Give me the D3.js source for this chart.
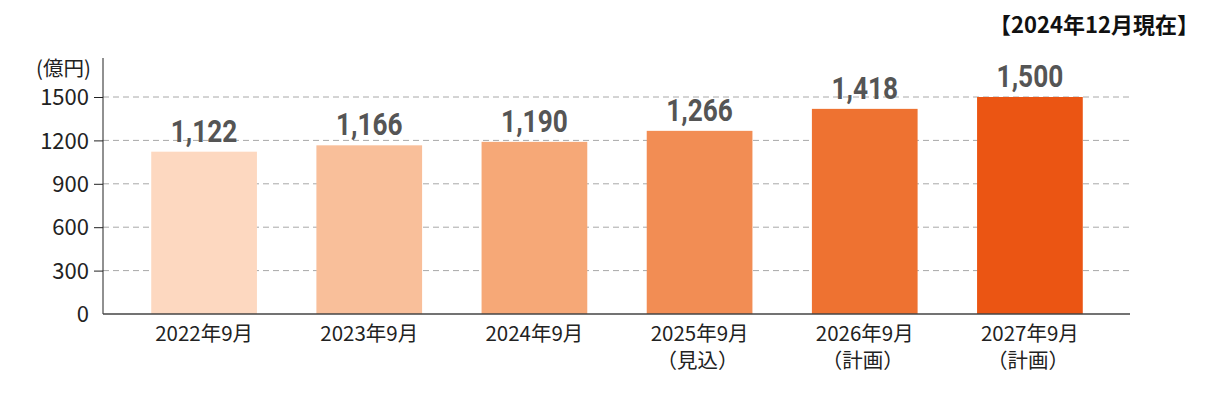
<!DOCTYPE html>
<html><head><meta charset="utf-8">
<script src="https://cdn.jsdelivr.net/npm/d3@7"></script>
<style>body{margin:0;background:#fff}</style>
</head><body>
<svg id="c" width="1210" height="400"></svg>
<script>
const categories = ["2022年9月","2023年9月","2024年9月","2025年9月","2026年9月","2027年9月"];
const subLabels = ["","","","（見込）","（計画）","（計画）"];
const values = [1122,1166,1190,1266,1418,1500];
const yTicks = [0,300,600,900,1200,1500];
const barColors = ["#fdd8c0","#f9bf9a","#f6a877","#f28d54","#ee7231","#eb5513"];

const svg = d3.select("#c");
const jp = "'Noto Sans CJK JP','Noto Sans',sans-serif";
const y = d3.scaleLinear().domain([0,1500]).range([314,97]);
const x = d3.scaleBand().domain(categories).range([121.5,1112.5]).paddingInner(0.36).paddingOuter(0.18);

// grid
svg.append("g").selectAll("line").data(yTicks.filter(d=>d>0)).join("line")
  .attr("x1",103).attr("x2",1130).attr("y1",d=>y(d)).attr("y2",d=>y(d))
  .attr("stroke","#a8a8a8").attr("stroke-width",1).attr("stroke-dasharray","6,4");

// bars
svg.append("g").selectAll("rect").data(values).join("rect")
  .attr("x",(d,i)=>x(categories[i])).attr("width",x.bandwidth())
  .attr("y",d=>y(d)).attr("height",d=>y(0)-y(d)).attr("fill",(d,i)=>barColors[i]);

// value labels (condensed look via horizontal scale)
svg.append("g").selectAll("text").data(values).join("text")
  .attr("transform",(d,i)=>`translate(${x(categories[i])+x.bandwidth()/2},${y(d)-10}) scale(0.82,1)`)
  .attr("text-anchor","middle").attr("fill","#555")
  .style("font-family","Roboto,sans-serif").style("font-weight","bold").style("font-size","32px")
  .text(d=>d3.format(",")(d));

// y axis
const ya = svg.append("g").attr("transform","translate(103,0)")
  .call(d3.axisLeft(y).tickValues(yTicks).tickFormat(d3.format("d")).tickSize(9).tickPadding(5));
ya.select(".domain").attr("d","M0,58V314").attr("stroke","#222");
ya.selectAll(".tick line").attr("stroke","#222");
ya.selectAll(".tick text").attr("fill","#222").style("font-family",jp).style("font-size","22px").attr("dy","0.35em");
ya.selectAll(".tick").filter(d=>d===0).select("line").remove();

// x axis
const xa = svg.append("g").attr("transform","translate(0,314)")
  .call(d3.axisBottom(x).tickSize(0).tickPadding(0));
xa.select(".domain").attr("d","M103,0H1130").attr("stroke","#444").attr("stroke-width",1.5);
xa.selectAll(".tick text").remove();
xa.selectAll(".tick").each(function(d,i){
  const t = d3.select(this).append("text").attr("text-anchor","middle").attr("fill","#222")
    .style("font-family",jp).style("font-size","20.5px");
  t.append("tspan").attr("x",0).attr("y",27).text(d);
  if(subLabels[i]) t.append("tspan").attr("x",-2).attr("y",54).text(subLabels[i]);
});

svg.append("text").attr("x",36).attr("y",76).attr("fill","#222")
  .style("font-family",jp).style("font-size","20.5px").text("(億円)");
svg.append("text").attr("x",1199).attr("y",33).attr("text-anchor","end").attr("fill","#111")
  .style("font-family",jp).style("font-weight","bold").style("font-size","22px").text("【2024年12月現在】");
</script>
</body></html>
